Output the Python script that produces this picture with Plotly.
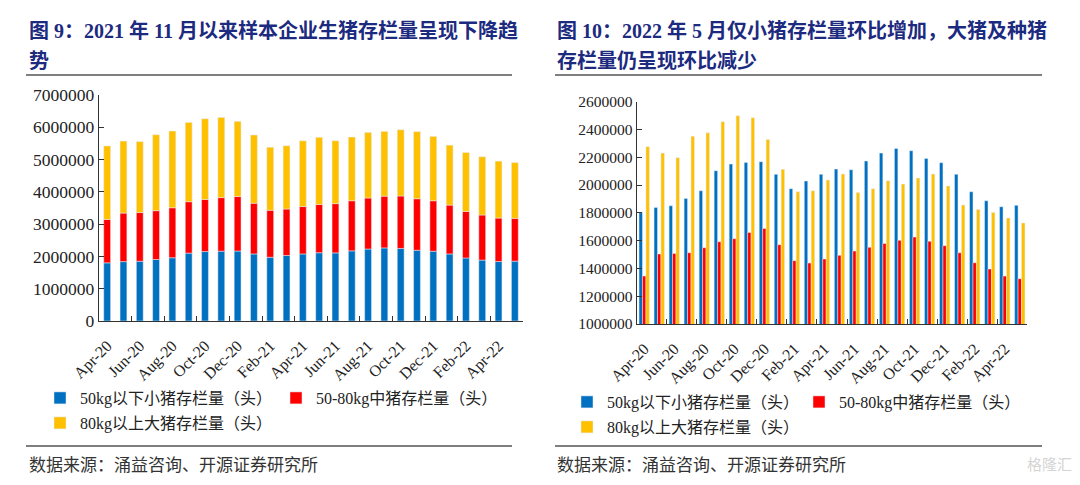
import plotly.graph_objects as go

# ---------------- data ----------------
months = ["Apr-20", "May-20", "Jun-20", "Jul-20", "Aug-20", "Sep-20", "Oct-20", "Nov-20", "Dec-20",
          "Jan-21", "Feb-21", "Mar-21", "Apr-21", "May-21", "Jun-21", "Jul-21", "Aug-21", "Sep-21",
          "Oct-21", "Nov-21", "Dec-21", "Jan-22", "Feb-22", "Mar-22", "Apr-22", "May-22"]

small_pigs = [1801000, 1839000, 1851000, 1904000, 1959000, 2103000, 2151000, 2163000, 2168000,
              2077000, 1974000, 2029000, 2077000, 2115000, 2110000, 2173000, 2230000, 2264000,
              2247000, 2192000, 2161000, 2077000, 1952000, 1887000, 1844000, 1854000]
mid_pigs = [1345000, 1504000, 1508000, 1513000, 1549000, 1592000, 1614000, 1659000, 1688000,
            1571000, 1456000, 1439000, 1468000, 1494000, 1525000, 1552000, 1580000, 1602000,
            1626000, 1595000, 1564000, 1513000, 1441000, 1396000, 1345000, 1326000]
large_pigs = [2276000, 2230000, 2197000, 2352000, 2376000, 2456000, 2499000, 2484000, 2328000,
              2113000, 1952000, 1959000, 2036000, 2079000, 1947000, 1974000, 2031000, 2007000,
              2050000, 2079000, 1993000, 1856000, 1825000, 1803000, 1763000, 1727000]

name_small = "50kg以下小猪存栏量（头）"
name_mid = "50-80kg中猪存栏量（头）"
name_large = "80kg以上大猪存栏量（头）"

title_left_1 = "图 9：2021 年 11 月以来样本企业生猪存栏量呈现下降趋"
title_left_2 = "势"
title_right_1 = "图 10：2022 年 5 月仅小猪存栏量环比增加，大猪及种猪"
title_right_2 = "存栏量仍呈现环比减少"
source_text = "数据来源：涌益咨询、开源证券研究所"

# ---------------- style ----------------
PAGE_W, PAGE_H = 1080, 485
OFF = 8  # default body margin of the html page
W, H = PAGE_W - OFF, PAGE_H - OFF
BLUE, RED, YELLOW = "#0070C0", "#FF0000", "#FFC000"
NAVY = "#1c2a80"
AX = "#333333"
SERIF = "Liberation Serif, Noto Sans CJK SC, serif"
CJK = "Noto Sans CJK SC, sans-serif"


def fx(x):
    return (x - OFF) / W


def fy(y):
    return 1 - (y - OFF) / H


fig = go.Figure()

# left: stacked bars (drawn with base)
stack_base_mid = small_pigs
stack_base_large = [s + m for s, m in zip(small_pigs, mid_pigs)]
lw, lo = 0.42, -0.21
fig.add_trace(go.Bar(x=months, y=small_pigs, name=name_small, marker_color=BLUE,
                     width=lw, offset=lo, xaxis="x", yaxis="y", legend="legend"))
fig.add_trace(go.Bar(x=months, y=mid_pigs, base=stack_base_mid, name=name_mid, marker_color=RED,
                     width=lw, offset=lo, xaxis="x", yaxis="y", legend="legend2"))
fig.add_trace(go.Bar(x=months, y=large_pigs, base=stack_base_large, name=name_large, marker_color=YELLOW,
                     width=lw, offset=lo, xaxis="x", yaxis="y", legend="legend3"))

# right: grouped bars
rw = 0.23
fig.add_trace(go.Bar(x=months, y=small_pigs, name=name_small, marker_color=BLUE,
                     width=rw, offset=-1.5 * rw, xaxis="x2", yaxis="y2", legend="legend4"))
fig.add_trace(go.Bar(x=months, y=mid_pigs, name=name_mid, marker_color=RED,
                     width=rw, offset=-0.5 * rw, xaxis="x2", yaxis="y2", legend="legend5"))
fig.add_trace(go.Bar(x=months, y=large_pigs, name=name_large, marker_color=YELLOW,
                     width=rw, offset=0.5 * rw, xaxis="x2", yaxis="y2", legend="legend6"))

tickfont = dict(family=SERIF, size=16, color="#222222")
xcommon = dict(type="category", range=[-0.5, len(months) - 0.5], tickmode="linear", tick0=0, dtick=2,
               tickson="boundaries", ticks="inside", ticklen=5, tickcolor=AX, tickwidth=1.2,
               tickangle=-45, ticklabelstandoff=8, showline=True, linecolor=AX, linewidth=1.4,
               showgrid=False, zeroline=False, tickfont=tickfont, fixedrange=True, automargin=False)
ycommon = dict(ticks="inside", ticklen=5, tickcolor=AX, tickwidth=1.2, showline=True,
               linecolor=AX, linewidth=1.4, showgrid=False, zeroline=False, tickformat="d",
               fixedrange=True, automargin=False)

legend_font = dict(family=SERIF, size=16, color="#222222")


def leg(xpx, ypx):
    return dict(x=fx(xpx), y=fy(ypx), xanchor="left", yanchor="middle", orientation="h",
                bgcolor="rgba(0,0,0,0)", borderwidth=0, font=legend_font, visible=True)


fig.update_layout(
    width=W, height=H, margin=dict(l=0, r=0, t=0, b=0, autoexpand=False),
    paper_bgcolor="white", plot_bgcolor="white",
    barmode="overlay", showlegend=True,
    xaxis=dict(domain=[fx(99), fx(523)], anchor="y", **xcommon),
    yaxis=dict(domain=[fy(321), fy(95)], anchor="x", range=[0, 7000000], dtick=1000000,
               tickfont=dict(family=SERIF, size=17.5, color="#222222"), **ycommon),
    xaxis2=dict(domain=[fx(636.7), fx(1027.3)], anchor="y2", **xcommon),
    yaxis2=dict(domain=[fy(324), fy(101.7)], anchor="x2", range=[1000000, 2600000], dtick=200000,
                tickfont=dict(family=SERIF, size=15.5, color="#222222"), **ycommon),
    legend=leg(40, 398), legend2=leg(276, 398), legend3=leg(40, 423),
    legend4=leg(567, 402), legend5=leg(799, 402), legend6=leg(567, 427),
)

# titles
title_font = dict(family=SERIF, size=20, color=NAVY)
for txt, xpx, ypx in [(title_left_1, 27, 31), (title_left_2, 27, 61),
                      (title_right_1, 555, 31), (title_right_2, 555, 61)]:
    fig.add_annotation(text="<b>" + txt + "</b>", x=fx(xpx), y=fy(ypx), xref="paper", yref="paper",
                       xanchor="left", yanchor="middle", showarrow=False, font=title_font)

# source texts
for xpx in (27, 555):
    fig.add_annotation(text=source_text, x=fx(xpx), y=fy(463), xref="paper", yref="paper",
                       xanchor="left", yanchor="middle", showarrow=False,
                       font=dict(family=CJK, size=17, color="#333333"))

# watermark
fig.add_annotation(text="格隆汇", x=fx(1074), y=fy(463), xref="paper", yref="paper",
                   xanchor="right", yanchor="middle", showarrow=False,
                   font=dict(family=CJK, size=15, color="#d4d4d4"))

# separator lines
for x0, x1 in [(26, 512), (555, 1042)]:
    for ypx in (75, 446):
        fig.add_shape(type="line", xref="paper", yref="paper", x0=fx(x0), x1=fx(x1),
                      y0=fy(ypx), y1=fy(ypx), line=dict(color="#555555", width=1.5))

fig.write_html("out.html")
